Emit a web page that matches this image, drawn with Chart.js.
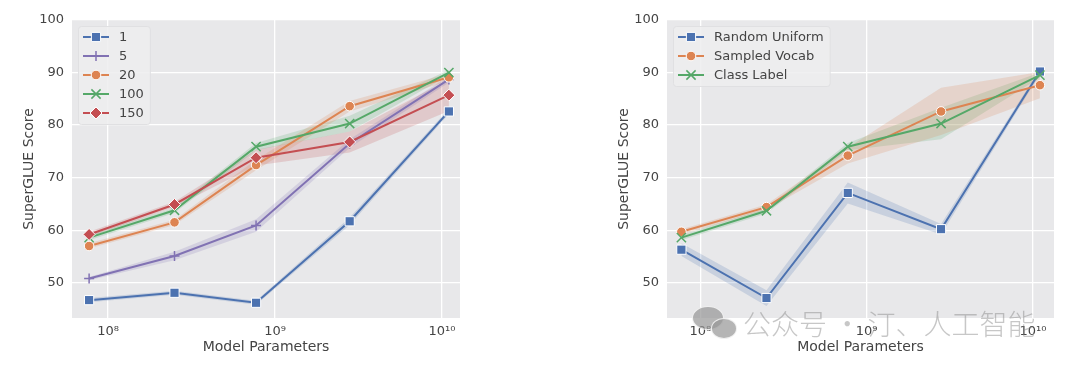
<!DOCTYPE html>
<html lang="en">
<head>
  <meta charset="UTF-8">
  <title>SuperGLUE Score vs Model Parameters</title>
  <script src="https://cdn.jsdelivr.net/npm/chart.js"></script>
  <style>
    body { margin: 0; width: 1080px; height: 367px; background: #fff; position: relative; overflow: hidden; }
    canvas { position: absolute; top: 0; }
    #leftChart { left: 0; }
    #rightChart { left: 590px; }
    .bubble { position: absolute; border-radius: 50%; background: rgba(150,150,150,0.7); border: 1.5px solid rgba(255,255,255,0.8); }
    #wm { position: absolute; left: 743px; top: 303px; font: 300 28px "Noto Sans CJK SC"; color: rgba(130,130,130,0.45); white-space: nowrap; }
  </style>
</head>
<body>
  <canvas id="leftChart" width="480" height="367"></canvas>
  <canvas id="rightChart" width="490" height="367"></canvas>
  <div class="bubble" style="left:692px; top:306px; width:30px; height:22px;"></div>
  <div class="bubble" style="left:711px; top:318px; width:24px; height:19px;"></div>
  <div id="wm">公众号 · 汀、人工智能</div>

  <script>
    // model sizes (x) and axis ticks
    const params = [7.7e7, 2.5e8, 7.7e8, 2.8e9, 1.1e10];
    const xTicks = [1e8, 1e9, 1e10];
    const xTickLabels = ["10⁸", "10⁹", "10¹⁰"];
    const yTicks = [50, 60, 70, 80, 90, 100];

    // left: prompt length
    const lenLabels = ["1", "5", "20", "100", "150"];
    const len1 = [46.7, 48.1, 46.2, 61.7, 82.6];
    const len1Err = [0.4, 0.4, 0.4, 0.7, 0.5];
    const len5 = [50.8, 55.1, 60.9, 76.5, 88.7];
    const len5Err = [0.3, 0.8, 1.2, 0.8, 0.6];
    const len20 = [57.0, 61.5, 72.4, 83.6, 89.1];
    const len20Err = [0.5, 0.5, 1.0, 1.0, 0.7];
    const len100 = [58.6, 63.8, 75.9, 80.3, 90.0];
    const len100Err = [0.5, 0.5, 0.7, 1.5, 0.5];
    const len150 = [59.2, 64.9, 73.8, 76.8, 85.7];
    const len150Err = [0.5, 0.5, 1.5, 2.0, 3.0];

    // right: prompt initialization
    const initLabels = ["Random Uniform", "Sampled Vocab", "Class Label"];
    const randomUniform = [56.3, 47.1, 67.1, 60.2, 90.2];
    const randomUniformErr = [1.2, 1.5, 2.0, 1.0, 0.5];
    const sampledVocab = [59.7, 64.4, 74.2, 82.6, 87.6];
    const sampledVocabErr = [0.5, 0.5, 1.5, 4.5, 2.5];
    const classLabel = [58.6, 63.7, 75.9, 80.3, 89.5];
    const classLabelErr = [0.5, 0.5, 0.7, 3.0, 0.5];

    const FONT = "DejaVu Sans";
    const TEXT = "#444";

    const blue   = { color: "#4C72B0", rgb: "76,114,176",  marker: "rect",     r: 6.5, edge: "#fff",    edgeW: 1 };
    const purple = { color: "#8172B3", rgb: "129,114,179", marker: "cross",    r: 5,   edge: "#8172B3", edgeW: 1.5 };
    const orange = { color: "#DD8452", rgb: "221,132,82",  marker: "circle",   r: 4.8, edge: "#fff",    edgeW: 1 };
    const green  = { color: "#55A868", rgb: "85,168,104",  marker: "crossRot", r: 6.5, edge: "#55A868", edgeW: 1.5 };
    const red    = { color: "#C44E52", rgb: "196,78,82",   marker: "rectRot",  r: 6,   edge: "#fff",    edgeW: 1 };

    function buildDatasets(labels, values, errs, styles) {
      const lines = [], bands = [];
      labels.forEach((label, i) => {
        const st = styles[i];
        lines.push({
          label: label, inLegend: true, st: st,
          data: params.map((x, j) => ({ x: x, y: values[i][j] })),
          borderColor: st.color, backgroundColor: st.color, borderWidth: 2,
          pointStyle: st.marker, pointRadius: st.r,
          pointBackgroundColor: st.color, pointBorderColor: st.edge, pointBorderWidth: st.edgeW,
          tension: 0, fill: false, order: 10 - i
        });
        bands.push({
          data: params.map((x, j) => ({ x: x, y: values[i][j] - errs[i][j] })),
          borderColor: "transparent", borderWidth: 0, pointRadius: 0, fill: false, order: 20
        });
        bands.push({
          data: params.map((x, j) => ({ x: x, y: values[i][j] + errs[i][j] })),
          borderColor: "transparent", borderWidth: 0, pointRadius: 0,
          backgroundColor: "rgba(" + st.rgb + ",0.2)", fill: "-1", order: 20
        });
      });
      return lines.concat(bands);
    }

    function drawMarker(ctx, st, x, y) {
      const r = st.r;
      ctx.save();
      ctx.fillStyle = st.color;
      ctx.strokeStyle = st.edge;
      ctx.lineWidth = st.edgeW;
      ctx.beginPath();
      if (st.marker === "rect") {
        const s = r * Math.SQRT1_2;
        ctx.rect(x - s, y - s, 2 * s, 2 * s);
        ctx.fill(); ctx.stroke();
      } else if (st.marker === "rectRot") {
        ctx.moveTo(x, y - r); ctx.lineTo(x + r, y); ctx.lineTo(x, y + r); ctx.lineTo(x - r, y);
        ctx.closePath(); ctx.fill(); ctx.stroke();
      } else if (st.marker === "circle") {
        ctx.arc(x, y, r, 0, Math.PI * 2);
        ctx.fill(); ctx.stroke();
      } else if (st.marker === "cross") {
        ctx.moveTo(x - r, y); ctx.lineTo(x + r, y); ctx.moveTo(x, y - r); ctx.lineTo(x, y + r);
        ctx.stroke();
      } else {
        const d = r * Math.SQRT1_2;
        ctx.moveTo(x - d, y - d); ctx.lineTo(x + d, y + d); ctx.moveTo(x + d, y - d); ctx.lineTo(x - d, y + d);
        ctx.stroke();
      }
      ctx.restore();
    }

    // grey seaborn-style plot background
    const plotBg = {
      id: "plotBg",
      beforeDraw(chart) {
        const { ctx, chartArea: a } = chart;
        ctx.save();
        ctx.fillStyle = "#E8E8EA";
        ctx.fillRect(a.left, a.top, a.width, a.height);
        ctx.restore();
      }
    };

    // legend box inside the plot, top left
    const boxLegend = {
      id: "boxLegend",
      afterDraw(chart, args, opts) {
        const { ctx, chartArea: a } = chart;
        const items = chart.data.datasets.filter(d => d.inLegend);
        const x0 = a.left + 6, y0 = a.top + 6, row = 19;
        ctx.save();
        ctx.font = "13px '" + FONT + "'";
        const tw = Math.max(...items.map(d => ctx.measureText(d.label).width));
        const w = 41 + tw + 6, h = 22 + (items.length - 1) * row;
        ctx.fillStyle = "rgba(237,237,239,0.85)";
        ctx.strokeStyle = "rgba(224,224,226,1)";
        ctx.lineWidth = 1;
        ctx.beginPath();
        ctx.roundRect(x0 + 0.5, y0 + 0.5, w, h, 3);
        ctx.fill(); ctx.stroke();
        items.forEach((d, i) => {
          const y = y0 + 11 + i * row;
          ctx.strokeStyle = d.st.color;
          ctx.lineWidth = 2;
          ctx.beginPath();
          ctx.moveTo(x0 + 5, y); ctx.lineTo(x0 + 31, y);
          ctx.stroke();
          drawMarker(ctx, d.st, x0 + 18, y);
          ctx.fillStyle = TEXT;
          ctx.textBaseline = "middle";
          ctx.fillText(d.label, x0 + 41, y + 1);
        });
        ctx.restore();
      }
    };

    function buildOptions(xMin, xMax, padding) {
      return {
        responsive: false,
        animation: false,
        layout: { padding: padding },
        plugins: {
          legend: { display: false },
          tooltip: { enabled: false },
          filler: { drawTime: "beforeDatasetsDraw" }
        },
        scales: {
          x: {
            type: "logarithmic", min: xMin, max: xMax,
            afterBuildTicks: s => { s.ticks = xTicks.map(v => ({ value: v })); },
            afterFit: s => { s.height = 45; },
            ticks: {
              callback: v => xTickLabels[xTicks.indexOf(v)],
              font: { family: FONT, size: 13 }, color: TEXT, padding: 6,
              maxRotation: 0, autoSkip: false
            },
            grid: { color: "#fff", lineWidth: 1.3, drawTicks: false },
            border: { display: false },
            title: { display: true, text: "Model Parameters", font: { family: FONT, size: 14 }, color: TEXT, padding: { top: 0, bottom: 7 } }
          },
          y: {
            min: 43.3, max: 100,
            afterBuildTicks: s => { s.ticks = yTicks.map(v => ({ value: v })); },
            afterFit: s => { s.width = 57; },
            ticks: { font: { family: FONT, size: 13 }, color: TEXT, padding: 8 },
            grid: { color: "#fff", lineWidth: 1.3, drawTicks: false },
            border: { display: false },
            title: { display: true, text: "SuperGLUE Score", font: { family: FONT, size: 14 }, color: TEXT, padding: { top: 6, bottom: 0 } }
          }
        }
      };
    }

    new Chart(document.getElementById("leftChart"), {
      type: "line",
      data: {
        datasets: buildDatasets(
          lenLabels,
          [len1, len5, len20, len100, len150],
          [len1Err, len5Err, len20Err, len100Err, len150Err],
          [blue, purple, orange, green, red]
        )
      },
      options: buildOptions(Math.pow(10, 7.784), Math.pow(10, 10.108), { left: 15, right: 20, top: 20, bottom: 4 }),
      plugins: [plotBg, boxLegend]
    });

    new Chart(document.getElementById("rightChart"), {
      type: "line",
      data: {
        datasets: buildDatasets(
          initLabels,
          [randomUniform, sampledVocab, classLabel],
          [randomUniformErr, sampledVocabErr, classLabelErr],
          [blue, orange, green]
        )
      },
      options: buildOptions(Math.pow(10, 7.80), Math.pow(10, 10.126), { left: 20, right: 26, top: 20, bottom: 4 }),
      plugins: [plotBg, boxLegend]
    });
  </script>
</body>
</html>
